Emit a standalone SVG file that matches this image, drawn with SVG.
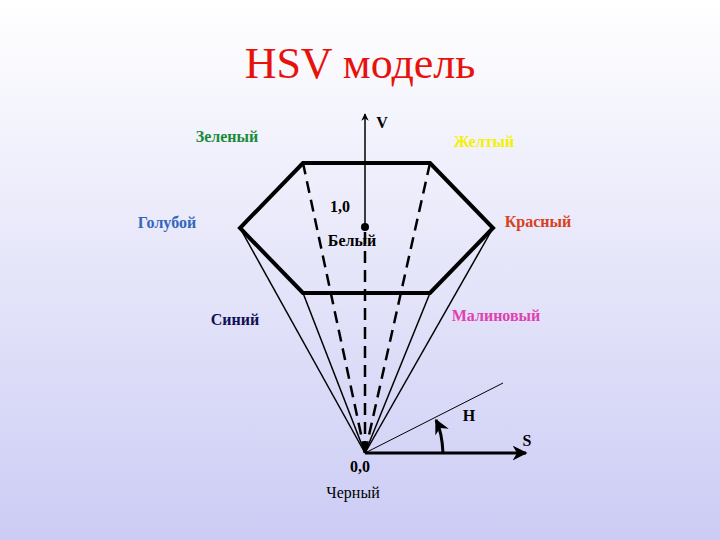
<svg xmlns="http://www.w3.org/2000/svg" width="720" height="540" viewBox="0 0 720 540">
<defs>
<linearGradient id="bg" x1="0" y1="0" x2="0" y2="1"><stop offset="0" stop-color="#ffffff"/><stop offset="1" stop-color="#ccccf5"/></linearGradient>
<marker id="ah" viewBox="0 0 10 10" refX="9" refY="5" markerWidth="5" markerHeight="5" orient="auto"><path d="M0,0 L10,5 L0,10 L3,5 Z" fill="#000"/></marker>
<style>
text{font-family:"Liberation Serif",serif;font-weight:bold;font-size:16px}
.th{stroke:#000;stroke-width:4;fill:none}
.sl{stroke:#000;stroke-width:1.5;fill:none}
.da{stroke:#000;stroke-width:2.5;stroke-dasharray:12,7;fill:none}
</style>
</defs>
<rect width="720" height="540" fill="url(#bg)"/>
<text x="360" y="78" text-anchor="middle" style="font-size:44px;font-weight:normal" fill="#e8120c">HSV модель</text>
<g id="connectors">
<line class="sl" x1="365" y1="453" x2="240" y2="228"/>
<line class="sl" x1="365" y1="453" x2="303" y2="293"/>
<line class="sl" x1="365" y1="453" x2="430" y2="293"/>
<line class="sl" x1="365" y1="453" x2="493" y2="228"/>
<line class="da" x1="365" y1="453" x2="303" y2="163"/>
<line class="da" x1="365" y1="453" x2="430" y2="163"/>
<line class="da" x1="365" y1="453" x2="365" y2="228"/>
<line x1="365" y1="228" x2="365" y2="114" stroke="#000" stroke-width="1.5" marker-end="url(#ah)"/>
<line x1="365" y1="453" x2="526" y2="453" stroke="#000" stroke-width="3" marker-end="url(#ah)"/>
<line x1="365" y1="453" x2="503" y2="383" stroke="#000" stroke-width="1"/>
<path d="M443,453 Q442,432 436,420" stroke="#000" stroke-width="3" fill="none" marker-end="url(#ah)"/>
</g>
<g id="hexagon"><polygon class="th" points="303,163 430,163 493,228 430,293 303,293 240,228"/></g>
<g id="white"><circle cx="365" cy="227" r="4" fill="#000"/><text x="352" y="246" text-anchor="middle">Белый</text><text x="340" y="212" text-anchor="middle">1,0</text></g>
<g id="v"><text x="382" y="128" text-anchor="middle">V</text></g>
<g id="green"><text x="227" y="142" text-anchor="middle" fill="#1a8a3a">Зеленый</text></g>
<g id="yellow"><text x="484" y="147" text-anchor="middle" fill="#f5f000">Желтый</text></g>
<g id="cyan"><text x="167" y="228" text-anchor="middle" fill="#3366bb">Голубой</text></g>
<g id="red"><text x="538" y="227" text-anchor="middle" fill="#d8401c">Красный</text></g>
<g id="blue"><text x="235" y="325" text-anchor="middle" fill="#111155">Синий</text></g>
<g id="magenta"><text x="496" y="321" text-anchor="middle" fill="#e040b0">Малиновый</text></g>
<g id="h"><text x="469" y="421" text-anchor="middle">H</text></g>
<g id="s"><text x="527" y="446" text-anchor="middle">S</text></g>
<g id="black"><text x="360" y="472" text-anchor="middle">0,0</text><text x="353" y="498" text-anchor="middle" style="font-weight:normal">Черный</text></g>
</svg>
